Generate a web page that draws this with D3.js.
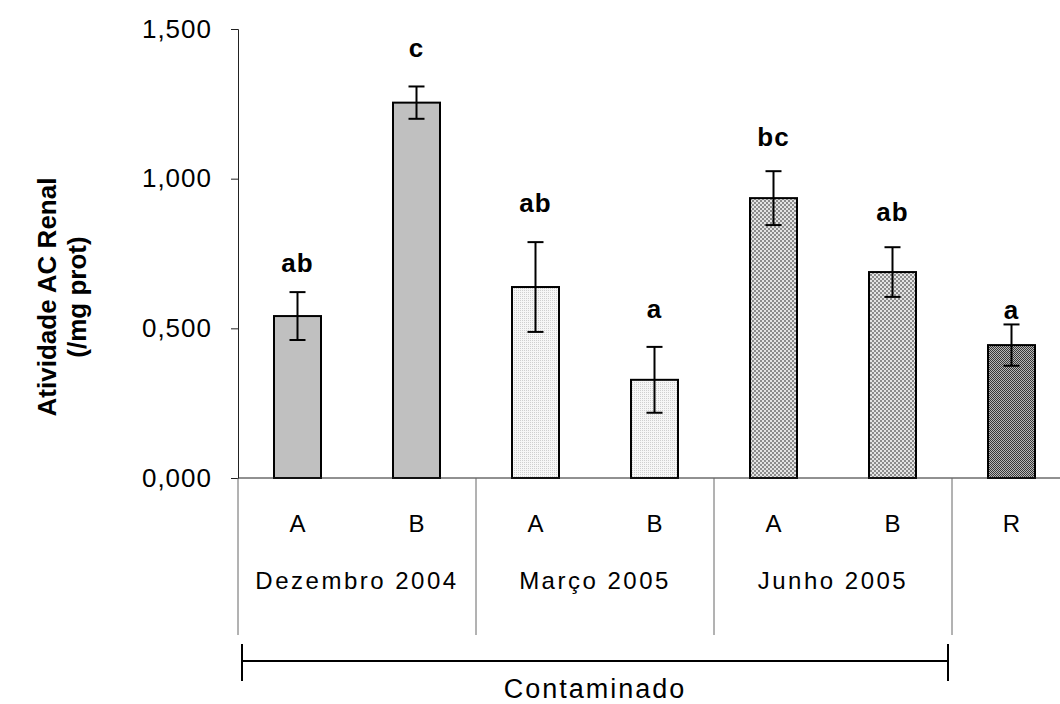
<!DOCTYPE html>
<html><head><meta charset="utf-8">
<script src="https://cdn.jsdelivr.net/npm/d3@7"></script>
<style>body{margin:0;background:#fff}svg{display:block;font-family:"Liberation Sans",Arial,sans-serif}</style>
</head><body>
<svg id="c" width="1060" height="704"></svg>
<script>
const categories = ["A","B","A","B","A","B","R"];
const groupNames = ["Dezembro 2004","Março 2005","Junho 2005","Referência"];
const means = [0.541, 1.254, 0.638, 0.328, 0.935, 0.688, 0.444];
const errors = [0.080, 0.054, 0.150, 0.110, 0.090, 0.083, 0.069];
const letters = ["ab","c","ab","a","bc","ab","a"];
const letterPos = [0.689, 1.405, 0.890, 0.536, 1.109, 0.859, 0.530];
const fills = ["solid","solid","dots","dots","checker","checker","dark"];
const yTicks = [0, 0.5, 1.0, 1.5];

const svg = d3.select("#c");
const x0 = 238, bw = 119, y0 = 478, yTop = 29;
const x = d3.scaleBand().domain(d3.range(categories.length)).range([x0, x0 + bw*categories.length]).padding(0);
const y = d3.scaleLinear().domain([0, 1.5]).range([y0, yTop]);
const loc = d3.formatLocale({decimal:",", thousands:".", grouping:[3], currency:["",""]});
const fmt = loc.format(".3f");

const defs = svg.append("defs");
let p = defs.append("pattern").attr("id","dots").attr("width",2).attr("height",2).attr("patternUnits","userSpaceOnUse");
p.append("rect").attr("width",2).attr("height",2).attr("fill","#f6f6f6");
p.append("rect").attr("width",1).attr("height",1).attr("fill","#cfcfcf");
p = defs.append("pattern").attr("id","checker").attr("width",4).attr("height",4).attr("patternUnits","userSpaceOnUse");
p.append("rect").attr("width",4).attr("height",4).attr("fill","#e4e4e4");
p.append("rect").attr("width",2).attr("height",2).attr("fill","#8c8c8c");
p.append("rect").attr("x",2).attr("y",2).attr("width",2).attr("height",2).attr("fill","#8c8c8c");
p = defs.append("pattern").attr("id","dark").attr("width",2).attr("height",2).attr("patternUnits","userSpaceOnUse");
p.append("rect").attr("width",2).attr("height",2).attr("fill","#b8b8b8");
p.append("rect").attr("width",1).attr("height",1).attr("fill","#383838");
p.append("rect").attr("x",1).attr("y",1).attr("width",1).attr("height",1).attr("fill","#383838");
defs.append("clipPath").attr("id","refclip").append("rect").attr("x",955).attr("y",0).attr("width",105).attr("height",572);

// y axis
const yAxis = svg.append("g").attr("transform",`translate(${x0},0)`)
  .call(d3.axisLeft(y).tickValues(yTicks).tickFormat(fmt).tickSize(7).tickSizeOuter(7).tickPadding(19));
yAxis.select(".domain").attr("stroke","#222");
yAxis.selectAll(".tick line").attr("stroke","#222");
yAxis.selectAll("text").attr("font-size",26).attr("letter-spacing",1).attr("fill","#000")
  .attr("font-family","Liberation Sans, Arial, sans-serif");

// bars
const barW = 47;
svg.append("g").selectAll("rect").data(means).join("rect")
  .attr("x",(d,i)=>x(i)+bw/2-barW/2)
  .attr("y",d=>y(d))
  .attr("width",barW)
  .attr("height",d=>y0-y(d))
  .attr("fill",(d,i)=>fills[i]==="solid"?"#c0c0c0":`url(#${fills[i]})`)
  .attr("stroke","#000").attr("stroke-width",2);

// error bars
const eg = svg.append("g").attr("stroke","#000").attr("stroke-width",2);
means.forEach((m,i)=>{
  const cx = x(i)+bw/2;
  eg.append("line").attr("x1",cx).attr("x2",cx).attr("y1",y(m+errors[i])).attr("y2",y(m-errors[i]));
  eg.append("line").attr("x1",cx-8).attr("x2",cx+8).attr("y1",y(m+errors[i])).attr("y2",y(m+errors[i]));
  eg.append("line").attr("x1",cx-8).attr("x2",cx+8).attr("y1",y(m-errors[i])).attr("y2",y(m-errors[i]));
});

// letters
svg.append("g").selectAll("text").data(letters).join("text")
  .attr("x",(d,i)=>x(i)+bw/2).attr("y",(d,i)=>y(letterPos[i]))
  .attr("text-anchor","middle").attr("font-size",26).attr("font-weight","bold").attr("letter-spacing",1).text(d=>d);

// x axis line
svg.append("line").attr("x1",x0).attr("x2",1060).attr("y1",y0).attr("y2",y0).attr("stroke","#222").attr("stroke-width",1);
// separators
const seps = [0,2,4,6].map(i=>x(i));
svg.append("g").selectAll("line").data(seps).join("line")
  .attr("x1",d=>d).attr("x2",d=>d).attr("y1",y0).attr("y2",635).attr("stroke","#666").attr("stroke-width",1);

// category labels
svg.append("g").selectAll("text").data(categories).join("text")
  .attr("x",(d,i)=>x(i)+bw/2).attr("y",532).attr("text-anchor","middle").attr("font-size",24).text(d=>d);
// group labels
svg.append("g").selectAll("text").data(groupNames).join("text")
  .attr("x",(d,i)=>i===3?1006:x(i*2)+bw).attr("y",589).attr("text-anchor","middle")
  .attr("font-size",(d,i)=>i===3?19:24)
  .attr("letter-spacing",(d,i)=>i===3?0:2.5)
  .attr("clip-path",(d,i)=>i===3?"url(#refclip)":null)
  .text(d=>d);

// bracket
const bx1 = x(0)+4, bx2 = x(6)-4;
const bg = svg.append("g").attr("stroke","#000").attr("stroke-width",2);
bg.append("line").attr("x1",bx1).attr("x2",bx2).attr("y1",661).attr("y2",661);
bg.append("line").attr("x1",bx1).attr("x2",bx1).attr("y1",644).attr("y2",681);
bg.append("line").attr("x1",bx2).attr("x2",bx2).attr("y1",644).attr("y2",681);
svg.append("text").attr("x",(bx1+bx2)/2).attr("y",698).attr("text-anchor","middle").attr("font-size",27)
  .attr("letter-spacing",2).text("Contaminado");

// y title
const yt = svg.append("text").attr("transform","translate(0,297) rotate(-90)").attr("text-anchor","middle")
  .attr("font-size",26).attr("font-weight","bold");
yt.append("tspan").attr("x",0).attr("y",56).text("Atividade AC Renal");
yt.append("tspan").attr("x",0).attr("y",86).text("(/mg prot)");
</script>
</body></html>
